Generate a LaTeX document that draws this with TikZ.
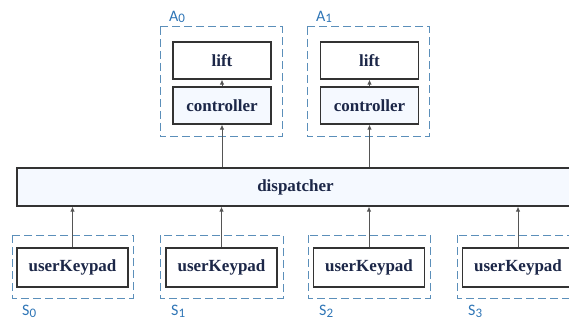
\documentclass[tikz,border=0pt]{standalone}
\usepackage{fontspec}
\setmainfont{Liberation Serif}
\newfontfamily\labelfont{Carlito}
\usetikzlibrary{arrows.meta}
\definecolor{boxline}{HTML}{333333}
\definecolor{boxtext}{HTML}{1C2748}
\definecolor{softfill}{HTML}{F5F9FF}
\definecolor{groupline}{HTML}{5B8FBA}
\definecolor{grouptext}{HTML}{2E75B6}
\definecolor{arrowline}{HTML}{555555}
\tikzset{
  unit/.style={draw=boxline, line width=1.3pt, fill=white, inner sep=0pt,
    text=boxtext, font=\fontsize{17}{19}\selectfont\bfseries},
  softunit/.style={unit, fill=softfill},
  group/.style={draw=groupline, line width=1pt, dash pattern=on 8pt off 4pt},
  grouplabel/.style={anchor=west, inner sep=0pt, text=grouptext,
    font=\labelfont\fontsize{16}{17}\selectfont},
  link/.style={draw=arrowline, line width=0.9pt,
    -{Latex[length=5pt,width=4.5pt]}}
}
\newcommand{\grp}[2]{#1\raisebox{-1.5pt}{\fontsize{13}{13}\selectfont #2}}
\begin{document}
\begin{tikzpicture}[x=1pt,y=-1pt]
\useasboundingbox (0,0) rectangle (569,320);
\clip (0,0) rectangle (569,320);

% lift groups
\draw[group] (160,27) rectangle (282,137);
\draw[group] (307,27) rectangle (429,137);
\node[grouplabel] (la0) at (169,17) {\grp{A}{0}};
\node[grouplabel] (la1) at (316,17) {\grp{A}{1}};

\node[unit, minimum width=98pt, minimum height=37pt] (lift0) at (222,60.5) {lift};
\node[softunit, minimum width=98pt, minimum height=37pt] (ctrl0) at (222,105.5) {controller};
\node[unit, minimum width=98pt, minimum height=37pt] (lift1) at (369.5,60.5) {lift};
\node[softunit, minimum width=98pt, minimum height=37pt] (ctrl1) at (369.5,105.5) {controller};

% dispatcher
\node[softunit, minimum width=557pt, minimum height=38pt] (disp) at (295.5,187) {dispatcher};

% station groups
\draw[group] (12,235) rectangle (133,298);
\draw[group] (160,235) rectangle (283,298);
\draw[group] (308,235) rectangle (430,298);
\draw[group] (457,235) rectangle (579,298);
\node[grouplabel] (ls0) at (22,311.5) {\grp{S}{0}};
\node[grouplabel] (ls1) at (171,311.5) {\grp{S}{1}};
\node[grouplabel] (ls2) at (319,311.5) {\grp{S}{2}};
\node[grouplabel] (ls3) at (468,311.5) {\grp{S}{3}};

\node[unit, minimum width=111pt, minimum height=39pt] (kp0) at (72.5,267.5) {userKeypad};
\node[unit, minimum width=111pt, minimum height=39pt] (kp1) at (221.5,267.5) {userKeypad};
\node[unit, minimum width=111pt, minimum height=39pt] (kp2) at (369,267.5) {userKeypad};
\node[unit, minimum width=111pt, minimum height=39pt] (kp3) at (518,267.5) {userKeypad};

% connectors
\draw[link] (ctrl0.north) -- (lift0.south);
\draw[link] (ctrl1.north) -- (lift1.south);
\draw[link] (disp.north -| ctrl0.south) -- (ctrl0.south);
\draw[link] (disp.north -| ctrl1.south) -- (ctrl1.south);
\foreach \k in {kp0,kp1,kp2,kp3}
  \draw[link] (\k.north) -- (\k.north |- disp.south);
\end{tikzpicture}
\end{document}
